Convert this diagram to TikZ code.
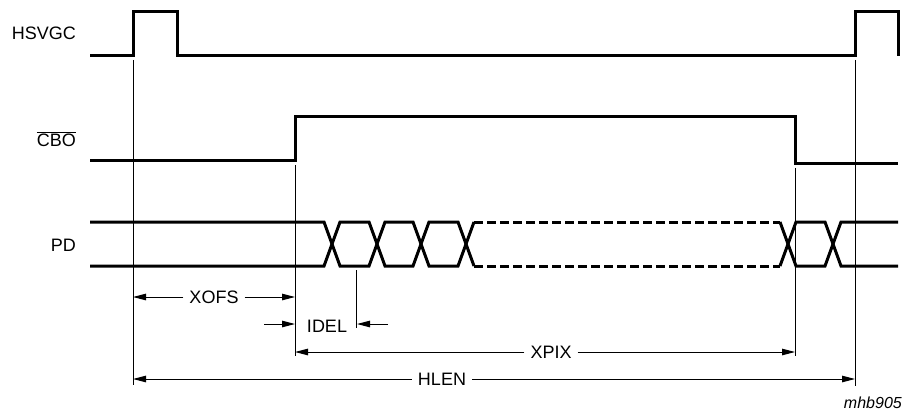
\documentclass[tikz,border=0pt]{standalone}
\usepackage{fontspec}
\setmainfont{Liberation Sans}
\usetikzlibrary{arrows.meta}
\tikzset{
  sig/.style={line width=3pt},
  sigdash/.style={line width=3pt, dash pattern=on 9pt off 4pt},
  guide/.style={line width=1pt},
  dimline/.style={line width=1pt, -{Triangle[length=13pt,width=6.5pt]}},
  signame/.style={anchor=base east, inner sep=0pt, font=\fontsize{18pt}{20pt}\selectfont},
  dimlbl/.style={inner ysep=0pt, inner xsep=6pt, font=\fontsize{18pt}{20pt}\selectfont},
  tag/.style={anchor=east, inner sep=0pt, font=\fontsize{16pt}{18pt}\selectfont\itshape}
}
\begin{document}
\begin{tikzpicture}[x=1pt,y=-1pt]
\useasboundingbox (0,0) rectangle (909,414);
% signal names
\node[signame] (nHS) at (76,40) {HSVGC};
\node[signame] (nCBO) at (76,146.5) {$\overline{\mbox{CBO}}$};
\node[signame] (nPD) at (76,251.5) {PD};
% HSVGC
\draw[sig] (90,56) -- (133,56) -- (133,12) -- (177,12) -- (177,56) -- (855,56) -- (855,12) -- (898,12) -- (898,56);
% CBO
\draw[sig] (90,161) -- (295,161) -- (295,117) -- (795,117) -- (795,164) -- (898,164);
% PD
\draw[sig] (90,222) -- (324,222) -- (340,266) -- (369,266) -- (385,222) -- (413,222) -- (429,266) -- (458,266) -- (474,222);
\draw[sig] (90,266) -- (324,266) -- (340,222) -- (369,222) -- (385,266) -- (413,266) -- (429,222) -- (458,222) -- (474,266);
\draw[sigdash] (474,222) -- (780,222);
\draw[sigdash] (474,266) -- (780,266);
\draw[sig] (780,222) -- (796,266) -- (825,266) -- (841,222) -- (898,222);
\draw[sig] (780,266) -- (796,222) -- (825,222) -- (841,266) -- (898,266);
% guide lines
\coordinate (gA) at (133,60);
\coordinate (gAe) at (133,385);
\coordinate (gB) at (295,165);
\coordinate (gBe) at (295,356);
\coordinate (gC) at (795,168);
\coordinate (gCe) at (795,356);
\coordinate (gD) at (855,60);
\coordinate (gDe) at (855,386);
\coordinate (gI) at (356,270);
\coordinate (gIe) at (356,328);
\draw[guide] (gA) -- (gAe);
\draw[guide] (gB) -- (gBe);
\draw[guide] (gC) -- (gCe);
\draw[guide] (gD) -- (gDe);
\draw[guide] (gI) -- (gIe);
% XOFS
\coordinate (xofsL) at (133,297);
\coordinate (xofsR) at (295,297);
\node[dimlbl] (xofs) at (214,297) {XOFS};
\draw[dimline] (xofs.west) -- (xofsL);
\draw[dimline] (xofs.east) -- (xofsR);
% IDEL
\coordinate (idelA) at (264,324);
\coordinate (idelB) at (295,324);
\coordinate (idelC) at (388,324);
\coordinate (idelD) at (357,324);
\node[dimlbl] (idel) at (327,326) {IDEL};
\draw[dimline] (idelA) -- (idelB);
\draw[dimline] (idelC) -- (idelD);
% XPIX
\coordinate (xpixL) at (295,352);
\coordinate (xpixR) at (795,352);
\node[dimlbl] (xpix) at (551,352) {XPIX};
\draw[dimline] (xpix.west) -- (xpixL);
\draw[dimline] (xpix.east) -- (xpixR);
% HLEN
\coordinate (hlenL) at (133,379);
\coordinate (hlenR) at (855,379);
\node[dimlbl] (hlen) at (442,379) {HLEN};
\draw[dimline] (hlen.west) -- (hlenL);
\draw[dimline] (hlen.east) -- (hlenR);
% tag
\node[tag] (tag) at (902,403) {mhb905};
\end{tikzpicture}
\end{document}
